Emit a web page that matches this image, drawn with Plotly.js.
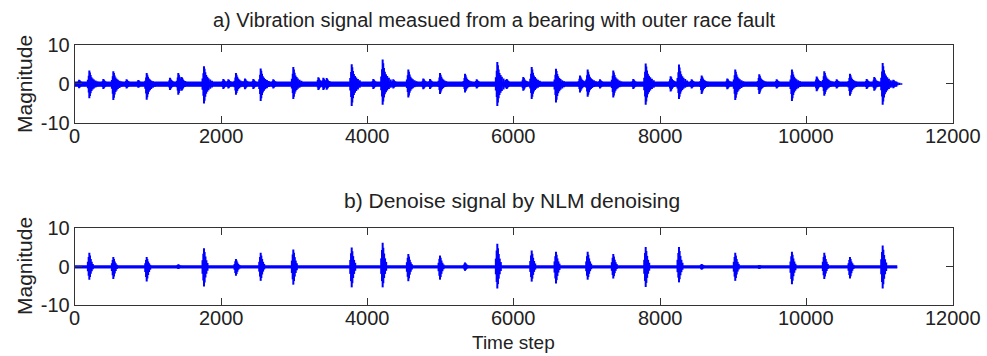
<!DOCTYPE html>
<html>
<head>
<meta charset="utf-8">
<script src="https://cdn.plot.ly/plotly-3.0.1.min.js"></script>
<style>html,body{margin:0;padding:0;background:#fff;}#chart{width:987px;height:356px;}</style>
</head>
<body>
<div id="chart"></div>
<script>
// ---- data ----
const xTickVals = [0, 2000, 4000, 6000, 8000, 10000, 12000];
const xTickText = ['0', '2000', '4000', '6000', '8000', '10000', '12000'];
const yTickVals = [-10, 0, 10];
const yTickText = ['-10', '0', '10'];
const signalEnd = 11243;

// (a) raw vibration signal: main fault impulses
const rawTimes = [200, 528, 984, 1416, 1767, 2204, 2542, 2988, 3330, 3786, 4209, 4560, 4993, 5335, 5776, 6246, 6578, 7011, 7361, 7804, 8259, 8569, 9028, 9356, 9803, 10245, 10596, 11043];
const rawUp    = [3.5, 3.3, 2.8, 2.8, 4.6, 2.8, 4.0, 4.4, 1.7, 5.1, 6.3, 3.7, 2.8, 2.6, 5.7, 4.4, 3.9, 3.7, 3.5, 5.3, 5.0, 2.2, 3.7, 2.5, 3.7, 3.3, 2.6, 5.4];
const rawDown  = [3.7, 4.2, 4.1, 2.8, 5.1, 2.8, 4.4, 3.9, 1.6, 5.7, 5.4, 3.5, 2.6, 2.2, 5.7, 3.9, 4.8, 3.3, 3.5, 5.4, 3.9, 2.6, 4.2, 2.6, 4.4, 3.1, 3.1, 5.4];
// (a) small disturbance bursts
const rawMinorTimes = [60, 391, 709, 869, 1302, 1462, 2031, 2100, 2327, 2441, 2714, 3398, 3444, 4081, 4354, 4764, 4856, 5494, 5904, 6131, 6906, 7179, 7634, 8145, 8432, 8919, 9594, 10141, 10414, 10824, 10928, 11188];
const rawMinorAmp   = [1.1, 1.3, 1.2, 1.0, 1.6, 1.8, 1.3, 1.2, 1.4, 1.3, 1.2, 1.6, 1.5, 1.3, 1.2, 1.4, 1.3, 1.2, 1.3, 1.8, 2.2, 1.2, 1.3, 2.0, 1.2, 1.4, 1.2, 1.9, 1.2, 1.3, 1.8, 1.1];
const rawNoise = 0.6;

// (b) NLM denoised signal
const denTimes = [200, 528, 984, 1416, 1767, 2204, 2542, 2988, 3786, 4209, 4560, 4993, 5335, 5776, 6246, 6578, 7011, 7361, 7804, 8259, 8569, 9028, 9356, 9803, 10245, 10596, 11043];
const denUp    = [3.6, 2.5, 2.5, 0.6, 4.8, 2.0, 3.6, 4.5, 5.0, 6.2, 3.3, 2.9, 1.1, 6.0, 4.2, 3.9, 3.9, 3.3, 5.1, 5.1, 0.7, 3.6, 0.4, 3.9, 3.6, 2.5, 5.5];
const denDown  = [3.4, 3.2, 3.9, 0.6, 5.2, 2.4, 3.7, 4.7, 5.4, 5.4, 3.8, 3.4, 1.1, 5.7, 3.9, 4.4, 3.4, 3.1, 5.3, 4.1, 0.8, 3.7, 0.6, 4.6, 3.2, 3.1, 5.7];
const denNoise = 0.35;

// burst envelope shapes (sample offset from impact, relative level)
const rawShapeOffset = [-20, -8, 0, 8, 18, 30, 45, 62, 85, 110];
const rawShapeLevel  = [0.3, 0.6, 1, 0.85, 0.65, 0.5, 0.4, 0.32, 0.25, 0.18];
const denShapeOffset = [-20, -9, 0, 9, 20, 33, 48];
const denShapeLevel  = [0.35, 0.7, 1, 0.8, 0.55, 0.35, 0.2];

// ---- build traces ----
function bursts(times, up, down, offs, lev) {
  const x = [], y = [];
  times.forEach((t, i) => {
    offs.forEach((o, k) => {
      x.push(t + o, t + o, null);
      y.push(up[i] * lev[k], -down[i] * lev[k], null);
    });
  });
  return {x, y};
}
const blue = '#0000ff';
function band(noise, xa, ya) {
  return [
    {x: [0, signalEnd], y: [noise, noise], mode: 'lines', line: {width: 0, color: blue}, xaxis: xa, yaxis: ya, hoverinfo: 'skip'},
    {x: [0, signalEnd], y: [-noise, -noise], mode: 'lines', line: {width: 1, color: blue}, fill: 'tonexty', fillcolor: blue, xaxis: xa, yaxis: ya, hoverinfo: 'skip'}
  ];
}
const rA = bursts(rawTimes, rawUp, rawDown, rawShapeOffset, rawShapeLevel);
const rM = bursts(rawMinorTimes, rawMinorAmp, rawMinorAmp, rawShapeOffset, rawShapeLevel);
const dB = bursts(denTimes, denUp, denDown, denShapeOffset, denShapeLevel);

const traces = [
  ...band(rawNoise, 'x', 'y'),
  {x: rA.x, y: rA.y, mode: 'lines', line: {width: 2, color: blue}, xaxis: 'x', yaxis: 'y'},
  {x: rM.x, y: rM.y, mode: 'lines', line: {width: 2, color: blue}, xaxis: 'x', yaxis: 'y'},
  ...band(denNoise, 'x2', 'y2'),
  {x: dB.x, y: dB.y, mode: 'lines', line: {width: 2, color: blue}, xaxis: 'x2', yaxis: 'y2'}
];

const fam = 'Liberation Sans, Arial, sans-serif';
const font = {family: fam, size: 20, color: '#222'};
function xax(dom, anchor) {
  return {domain: dom, anchor: anchor, range: [0, 12000], tickvals: xTickVals, ticktext: xTickText, ticks: 'inside', ticklen: 7,
          tickcolor: '#333', showline: true, linecolor: '#333', linewidth: 1, mirror: 'ticks', showgrid: false,
          zeroline: false, showticklabels: false, fixedrange: true};
}
function yax(dom, anchor) {
  return {domain: dom, anchor: anchor, range: [-10, 10], tickvals: yTickVals, ticktext: yTickText, ticks: 'inside', ticklen: 7,
          tickcolor: '#333', showline: true, linecolor: '#333', linewidth: 1, mirror: 'ticks', showgrid: false,
          zeroline: false, tickfont: font, ticklabelstandoff: 0, fixedrange: true};
}
const W = 987, H = 356;
const xd = [74.7 / W, 952.7 / W];
const topDom = [1 - 122.5 / H, 1 - 45.3 / H];
const botDom = [1 - 305 / H, 1 - 228.3 / H];

const annotations = [
  {text: 'a) Vibration signal measued from a bearing with outer race fault', x: 494 / W, y: 1 - 20 / H, xref: 'paper', yref: 'paper', showarrow: false, xanchor: 'center', yanchor: 'middle', font: {family: fam, size: 20, color: '#222'}},
  {text: 'b) Denoise signal by NLM denoising', x: 512 / W, y: 1 - 200 / H, xref: 'paper', yref: 'paper', showarrow: false, xanchor: 'center', yanchor: 'middle', font: {family: fam, size: 21, color: '#222'}},
  {text: 'Magnitude', x: 24 / W, y: 1 - 84 / H, xref: 'paper', yref: 'paper', showarrow: false, textangle: -90, xanchor: 'center', yanchor: 'middle', font: {family: fam, size: 21, color: '#222'}},
  {text: 'Magnitude', x: 24 / W, y: 1 - 266 / H, xref: 'paper', yref: 'paper', showarrow: false, textangle: -90, xanchor: 'center', yanchor: 'middle', font: {family: fam, size: 21, color: '#222'}},
  {text: 'Time step', x: 513 / W, y: 1 - 342 / H, xref: 'paper', yref: 'paper', showarrow: false, xanchor: 'center', yanchor: 'middle', font: {family: fam, size: 19, color: '#222'}}
];
// x tick labels placed just under each axis
[['x', topDom[0]], ['x2', botDom[0]]].forEach(([xa, yb]) => {
  xTickVals.forEach((v, i) => {
    annotations.push({text: xTickText[i], x: v, xref: xa, y: yb, yref: 'paper', yshift: -13, showarrow: false,
      xanchor: 'center', yanchor: 'middle', font: font});
  });
});

const layout = {
  width: W, height: H, margin: {l: 0, r: 0, t: 0, b: 0}, showlegend: false,
  paper_bgcolor: '#fff', plot_bgcolor: '#fff', font: font,
  xaxis: xax(xd, 'y'),
  yaxis: yax(topDom, 'x'),
  xaxis2: xax(xd, 'y2'),
  yaxis2: yax(botDom, 'x2'),
  annotations: annotations
};
Plotly.newPlot('chart', traces, layout, {staticPlot: true, displayModeBar: false});
</script>
</body>
</html>
